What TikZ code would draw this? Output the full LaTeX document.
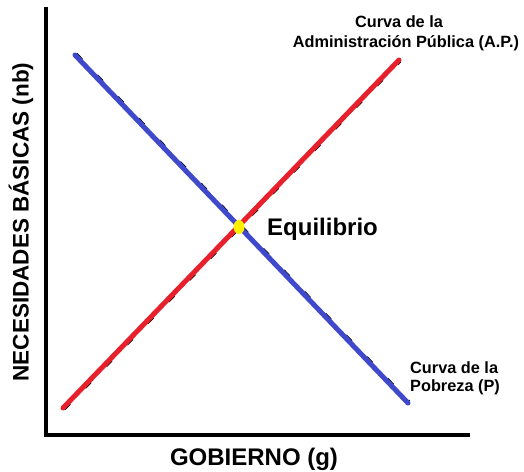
\documentclass[tikz,border=0pt]{standalone}
\usepackage{fontspec}
\setmainfont{Liberation Sans}
\usetikzlibrary{shapes.geometric}
\definecolor{cblue}{RGB}{64,72,204}
\definecolor{cred}{RGB}{232,32,44}
\definecolor{cyel}{RGB}{255,238,0}
\begin{document}
\begin{tikzpicture}[x=1pt,y=-1pt,
  axis/.style={line width=4pt},
  curve/.style={line width=5pt,line cap=round},
  shadow/.style={line width=2pt,dash pattern=on 8pt off 22pt,black},
  lbl/.style={font=\bfseries\fontsize{16.3}{18}\selectfont,inner sep=0pt,align=center},
  big/.style={font=\bfseries\fontsize{24}{28}\selectfont,inner sep=0pt},
  ybig/.style={font=\bfseries\fontsize{22.5}{26}\selectfont,inner sep=0pt}]
\useasboundingbox[fill=white] (0,0) rectangle (524,471);
% axes
\coordinate (top) at (46,7);
\coordinate (corner) at (46,437);
\coordinate (right) at (470,437);
\draw[axis] (top) -- ([yshift=2pt]corner) -- ([yshift=2pt]right);
% curve end points
\coordinate (p1) at (75,55);
\coordinate (p2) at (408,403);
\coordinate (a1) at (63,408);
\coordinate (a2) at (399,60);
% dashed black guide lines under the curves
\draw[shadow] ([shift={(1.5,-1.5)}]p1) -- ([shift={(1.5,-1.5)}]p2);
\draw[shadow] ([shift={(1.5,1.5)}]a1) -- ([shift={(1.5,1.5)}]a2);
\draw[curve,cblue] (p1) -- (p2);
\draw[curve,cred] (a1) -- (a2);
% equilibrium point
\node[ellipse,fill=cyel,minimum width=11pt,minimum height=14pt,inner sep=0pt] (eq) at (239,227) {};
\node[big,anchor=west] (eqlbl) at (267,229) {Equilibrio};
% labels
\node[lbl] (ap1) at (399,22) {Curva de la};
\node[lbl] (ap2) at (406,43) {Administración Pública (A.P.)};
\node[lbl,anchor=west] (p1l) at (410,368) {Curva de la};
\node[lbl,anchor=west] (p2l) at (410,387) {Pobreza (P)};
\node[big] (xl) at (254,459) {GOBIERNO (g)};
\node[ybig,rotate=90] (yl) at (21,222) {NECESIDADES BÁSICAS (nb)};
\end{tikzpicture}
\end{document}
